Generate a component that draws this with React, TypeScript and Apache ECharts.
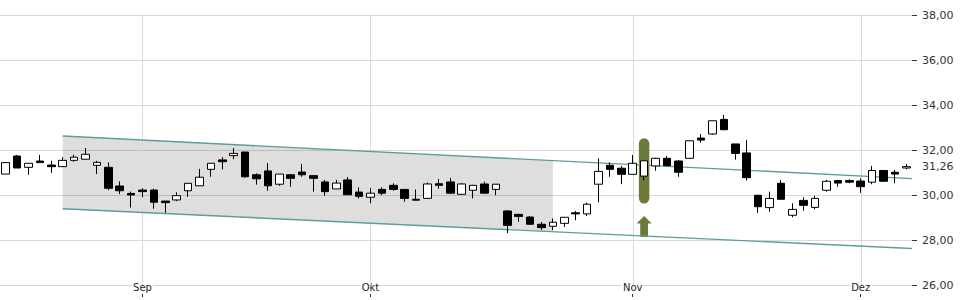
import React, { useEffect, useRef } from "react";
import * as echarts from "echarts";

const dates = [
  "2018-08-16", "2018-08-17", "2018-08-20", "2018-08-21", "2018-08-22", "2018-08-23", "2018-08-24", "2018-08-27", "2018-08-28", "2018-08-29",
  "2018-08-30", "2018-08-31", "2018-09-03", "2018-09-04", "2018-09-05", "2018-09-06", "2018-09-07", "2018-09-10", "2018-09-11", "2018-09-12",
  "2018-09-13", "2018-09-14", "2018-09-17", "2018-09-18", "2018-09-19", "2018-09-20", "2018-09-21", "2018-09-24", "2018-09-25", "2018-09-26",
  "2018-09-27", "2018-09-28", "2018-10-01", "2018-10-02", "2018-10-03", "2018-10-04", "2018-10-05", "2018-10-08", "2018-10-09", "2018-10-10",
  "2018-10-11", "2018-10-12", "2018-10-15", "2018-10-16", "2018-10-17", "2018-10-18", "2018-10-19", "2018-10-22", "2018-10-23", "2018-10-24",
  "2018-10-25", "2018-10-26", "2018-10-29", "2018-10-30", "2018-10-31", "2018-11-01", "2018-11-02", "2018-11-05", "2018-11-06", "2018-11-07",
  "2018-11-08", "2018-11-09", "2018-11-12", "2018-11-13", "2018-11-14", "2018-11-15", "2018-11-16", "2018-11-19", "2018-11-20", "2018-11-21",
  "2018-11-26", "2018-11-27", "2018-11-28", "2018-11-29", "2018-11-30", "2018-12-03", "2018-12-04", "2018-12-05", "2018-12-06", "2018-12-07",
];

const openPrices = [
  30.93, 31.73, 31.23, 31.51, 31.33, 31.26, 31.54, 31.59, 31.32, 31.23,
  30.40, 30.07, 30.22, 30.22, 29.73, 29.78, 30.19, 30.41, 31.14, 31.56,
  31.75, 31.91, 30.90, 31.07, 30.48, 30.90, 31.02, 30.86, 30.58, 30.27,
  30.67, 30.13, 29.90, 30.25, 30.43, 30.25, 29.81, 29.85, 30.50, 30.58,
  30.03, 30.21, 30.49, 30.25, 29.29, 29.14, 29.02, 28.70, 28.61, 28.74,
  29.21, 29.16, 30.48, 31.32, 31.19, 30.92, 30.84, 31.29, 31.63, 31.51,
  31.63, 32.53, 32.71, 33.36, 32.27, 31.87, 29.99, 29.44, 30.52, 29.10,
  29.76, 29.45, 30.21, 30.64, 30.64, 30.62, 30.57, 31.09, 31.01, 31.20,
];
const closePrices = [
  31.44, 31.20, 31.41, 31.44, 31.26, 31.54, 31.68, 31.81, 31.45, 30.30,
  30.19, 30.00, 30.15, 29.68, 29.66, 29.97, 30.52, 30.79, 31.41, 31.48,
  31.85, 30.81, 30.72, 30.41, 30.93, 30.74, 30.90, 30.74, 30.15, 30.53,
  30.01, 29.94, 30.08, 30.08, 30.25, 29.85, 29.77, 30.49, 30.43, 30.08,
  30.49, 30.43, 30.08, 30.48, 28.65, 29.05, 28.70, 28.55, 28.79, 29.01,
  29.16, 29.59, 31.05, 31.14, 30.92, 31.41, 31.52, 31.63, 31.30, 31.01,
  32.41, 32.44, 33.30, 32.90, 31.85, 30.77, 29.48, 29.85, 29.81, 29.36,
  29.54, 29.85, 30.61, 30.53, 30.57, 30.37, 31.09, 30.61, 30.93, 31.26,
];
const lowPrices = [
  30.93, 31.20, 30.90, 31.44, 30.99, 31.26, 31.47, 31.59, 30.93, 30.22,
  30.04, 29.44, 29.90, 29.39, 29.21, 29.73, 29.92, 30.41, 30.81, 31.14,
  31.59, 30.77, 30.46, 30.19, 30.41, 30.37, 30.81, 30.15, 29.97, 30.27,
  30.01, 29.84, 29.63, 29.99, 30.19, 29.70, 29.77, 29.85, 30.28, 30.08,
  30.03, 29.85, 30.08, 29.99, 28.30, 28.81, 28.68, 28.44, 28.44, 28.58,
  28.88, 29.07, 29.68, 30.81, 30.48, 30.92, 30.64, 31.08, 31.30, 30.81,
  31.63, 32.32, 32.67, 32.90, 31.57, 30.64, 29.21, 29.26, 29.81, 29.01,
  29.30, 29.36, 30.15, 30.37, 30.52, 30.10, 30.48, 30.61, 30.52, 31.14,
];
const highPrices = [
  31.46, 31.78, 31.41, 31.78, 31.52, 31.68, 31.79, 32.09, 31.52, 31.45,
  30.61, 30.15, 30.30, 30.28, 29.73, 30.12, 30.52, 31.16, 31.41, 31.68,
  32.09, 31.91, 30.96, 31.42, 30.93, 30.93, 31.38, 30.86, 30.67, 30.67,
  30.80, 30.34, 30.31, 30.34, 30.52, 30.25, 30.25, 30.55, 30.71, 30.76,
  30.52, 30.45, 30.59, 30.48, 29.33, 29.16, 29.07, 28.80, 28.96, 29.01,
  29.29, 29.66, 31.63, 31.45, 31.29, 31.78, 31.52, 31.66, 31.73, 31.56,
  32.41, 32.71, 33.30, 33.56, 32.27, 32.44, 29.99, 30.15, 30.67, 29.63,
  29.90, 29.97, 30.67, 30.67, 30.70, 30.74, 31.29, 31.10, 31.11, 31.38,
];

// channel lines: [index, price]
const channelUpper = [[5, 32.62], [79.5, 30.73]];
const channelLower = [[5, 29.39], [79.5, 27.62]];
// shaded band: [index, upper, lower]
const bandEdges = [[5, 32.62, 29.39], [48, 31.53, 28.37]];
// signal marker: [index, barTop, barBottom, arrowTip, arrowBase]
const signalMarker = [[56, 32.52, 29.62, 29.07, 28.13]];
const lastPrice = 31.26;

const yMin = 26;
const yMax = 38;
const yStep = 2;

const monthNames = ["Jan", "Feb", "Mär", "Apr", "Mai", "Jun", "Jul", "Aug", "Sep", "Okt", "Nov", "Dez"];
const isMonthStart = (i: number) => i > 0 && dates[i].slice(5, 7) !== dates[i - 1].slice(5, 7);
const monthStartIdx = dates.map((_, i) => i).filter(isMonthStart);

const fmt = (v: number) => v.toFixed(2).replace(".", ",");

export default function App() {
  const ref = useRef<HTMLDivElement>(null);
  useEffect(() => {
    if (!ref.current) return;
    const chart = echarts.init(ref.current, null, { renderer: "svg" });
    const candleData = dates.map((_, i) => [openPrices[i], closePrices[i], lowPrices[i], highPrices[i]]);
    const font = "DejaVu Sans";
    chart.setOption({
      animation: false,
      textStyle: { fontFamily: font },
      grid: { left: 0, right: 48, top: 15, bottom: 15, containLabel: false },
      xAxis: [
        {
          type: "category",
          data: dates,
          boundaryGap: true,
          axisLine: { show: true, onZero: false, lineStyle: { color: "#d4d4d4", width: 1 } },
          axisTick: { show: false },
          splitLine: { show: false },
          axisLabel: {
            interval: (i: number) => isMonthStart(i),
            formatter: (v: string) => monthNames[parseInt(v.slice(5, 7), 10) - 1],
            margin: -3,
            fontSize: 10,
            color: "#222",
            fontFamily: font,
            backgroundColor: "#fff",
            padding: [0, 1],
          },
        },
        {
          type: "value",
          show: false,
          min: -0.5,
          max: dates.length - 0.5,
          axisLine: { onZero: false },
        },
        {
          type: "category",
          data: dates,
          boundaryGap: true,
          position: "bottom",
          offset: 9,
          axisLine: { show: false, onZero: false },
          axisTick: {
            show: true,
            alignWithLabel: true,
            interval: (i: number) => isMonthStart(i),
            length: 3,
            lineStyle: { color: "#333" },
          },
          axisLabel: { show: false },
          splitLine: { show: false },
        },
      ],
      yAxis: {
        type: "value",
        position: "right",
        min: yMin,
        max: yMax,
        interval: yStep,
        axisLine: { show: false, onZero: false },
        axisTick: { show: true, length: 5, lineStyle: { color: "#333" } },
        axisLabel: { formatter: fmt, margin: 10, fontSize: 11, color: "#333", fontFamily: font },
        splitLine: { show: true, lineStyle: { color: "#dadada", width: 1 } },
      },
      series: [
        {
          type: "custom",
          name: "band",
          xAxisIndex: 1,
          yAxisIndex: 0,
          z: 1,
          silent: true,
          data: [[bandEdges[0][0], bandEdges[0][1]]],
          renderItem: (params: any, api: any) => {
            const a = api.coord([bandEdges[0][0], bandEdges[0][1]]);
            const b = api.coord([bandEdges[1][0], bandEdges[1][1]]);
            const c = api.coord([bandEdges[1][0], bandEdges[1][2]]);
            const d = api.coord([bandEdges[0][0], bandEdges[0][2]]);
            return {
              type: "polygon",
              shape: { points: [a, b, c, d] },
              style: { fill: "rgba(0,0,0,0.13)" },
            };
          },
        },
        {
          type: "custom",
          name: "monthLines",
          xAxisIndex: 0,
          yAxisIndex: 0,
          z: 1,
          silent: true,
          data: monthStartIdx.map((i) => [i, yMax]),
          renderItem: (params: any, api: any) => {
            const x = api.value(0);
            const a = api.coord([x, yMax]);
            const b = api.coord([x, yMin]);
            const px = Math.round(a[0]) + 0.5;
            return {
              type: "line",
              shape: { x1: px, y1: a[1], x2: px, y2: b[1] },
              style: { stroke: "#dadada", lineWidth: 1 },
            };
          },
        },
        {
          type: "custom",
          name: "signal",
          xAxisIndex: 0,
          yAxisIndex: 0,
          z: 1,
          silent: true,
          data: signalMarker,
          renderItem: (params: any, api: any) => {
            const i = api.value(0);
            const top = api.coord([i, api.value(1)]);
            const bot = api.coord([i, api.value(2)]);
            const tip = api.coord([i, api.value(3)]);
            const base = api.coord([i, api.value(4)]);
            const bw = api.size([1, 0])[0];
            const w = bw * 0.92;
            const x = top[0];
            const headH = 7.5;
            const hh = w * 0.72;
            const sh = w * 0.37;
            const color = "#6b7b39";
            return {
              type: "group",
              children: [
                {
                  type: "rect",
                  shape: { x: x - w / 2, y: top[1], width: w, height: bot[1] - top[1], r: w / 2 },
                  style: { fill: color },
                },
                {
                  type: "polygon",
                  shape: {
                    points: [
                      [x, tip[1]],
                      [x + hh, tip[1] + headH],
                      [x + sh, tip[1] + headH],
                      [x + sh, base[1]],
                      [x - sh, base[1]],
                      [x - sh, tip[1] + headH],
                      [x - hh, tip[1] + headH],
                    ],
                  },
                  style: { fill: color },
                },
              ],
            };
          },
        },
        {
          type: "line",
          name: "upper",
          xAxisIndex: 1,
          yAxisIndex: 0,
          z: 1,
          silent: true,
          symbol: "none",
          data: channelUpper,
          lineStyle: { color: "#5a9ea0", width: 1.4 },
        },
        {
          type: "line",
          name: "lower",
          xAxisIndex: 1,
          yAxisIndex: 0,
          z: 1,
          silent: true,
          symbol: "none",
          data: channelLower,
          lineStyle: { color: "#5a9ea0", width: 1.4 },
        },
        {
          type: "candlestick",
          name: "Kurs",
          xAxisIndex: 0,
          yAxisIndex: 0,
          z: 3,
          barWidth: 8,
          data: candleData,
          itemStyle: {
            color: "#ffffff",
            color0: "#000000",
            borderColor: "#000000",
            borderColor0: "#000000",
            borderWidth: 1,
          },
          markLine: {
            silent: true,
            symbol: "none",
            lineStyle: { color: "rgba(0,0,0,0)", width: 1, type: "solid" },
            label: {
              show: true,
              position: "end",
              distance: 10,
              formatter: () => fmt(lastPrice),
              fontSize: 11,
              color: "#333",
              fontFamily: font,
            },
            data: [{ yAxis: lastPrice }],
          },
        },
      ],
    });
    return () => chart.dispose();
  }, []);
  return (
    <div
      ref={ref}
      style={{ position: "fixed", left: 0, top: 0, width: 960, height: 300, background: "#fff" }}
    />
  );
}
